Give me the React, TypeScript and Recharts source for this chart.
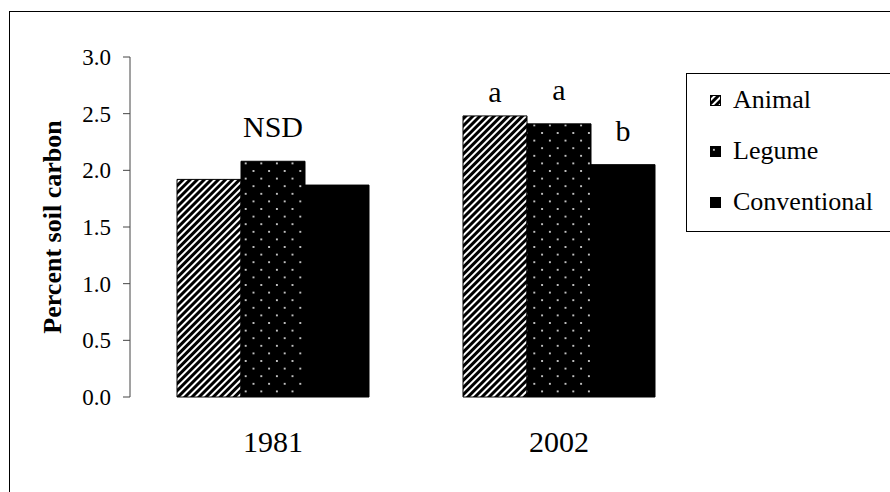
import {
  BarChart,
  Bar,
  XAxis,
  YAxis,
  LabelList,
} from "recharts";

const years = ["1981", "2002"];
const animal = [1.92, 2.48];
const legume = [2.08, 2.41];
const conventional = [1.87, 2.05];
const animalLetters = ["", "a"];
const legumeLetters = ["NSD", "a"];
const conventionalLetters = ["", "b"];
const yTicks = [0, 0.5, 1, 1.5, 2, 2.5, 3];
const seriesNames = ["Animal", "Legume", "Conventional"];

const data = years.map((year, i) => ({
  year,
  animal: animal[i],
  legume: legume[i],
  conventional: conventional[i],
  animalLetter: animalLetters[i],
  legumeLetter: legumeLetters[i],
  conventionalLetter: conventionalLetters[i],
}));

const FONT = '"Liberation Serif", "Times New Roman", serif';

const FILLS = ["url(#stripes)", "url(#dots)", "#000"];

// letters sit a bit above each bar
function letter(offset: number) {
  return (props: any) => {
    const { x, y, width, value } = props;
    if (!value) return null;
    return (
      <text
        x={x + width / 2}
        y={y - offset}
        textAnchor="middle"
        fontFamily={FONT}
        fontSize={30}
        fill="#000">
        {value}
      </text>
    );
  };
}

function Swatch({ fill }: { fill: string }) {
  return (
    <svg width={11} height={11} style={{ marginRight: 12, flexShrink: 0 }}>
      <rect x={0.5} y={0.5} width={10} height={10} fill={fill} stroke="#000" />
    </svg>
  );
}

export default function App() {
  return (
    <div
      style={{
        position: "absolute",
        left: 0,
        top: 0,
        width: 890,
        height: 492,
        overflow: "hidden",
        background: "#fff",
      }}>
      {/* outer frame, runs off the right and bottom edge */}
      <div
        style={{
          position: "absolute",
          left: 9,
          top: 11,
          width: 1000,
          height: 600,
          borderLeft: "1.5px solid #000",
          borderTop: "1.5px solid #000",
        }}
      />
      <div style={{ position: "absolute", left: 0, top: 0 }}>
        <BarChart
          width={890}
          height={492}
          data={data}
          margin={{ top: 57, right: 188, bottom: 35, left: 0 }}
          barCategoryGap={47}
          barGap={0}>
          <defs>
            <pattern
              id="stripes"
              width={5}
              height={5}
              patternUnits="userSpaceOnUse"
              patternTransform="rotate(45)">
              <rect width={5} height={5} fill="#fff" />
              <rect width={3} height={5} fill="#000" />
            </pattern>
            <pattern
              id="dots"
              width={15.6}
              height={15.2}
              patternUnits="userSpaceOnUse">
              <rect width={15.6} height={15.2} fill="#000" />
              <circle cx={3.9} cy={3.8} r={1} fill="#fff" />
              <circle cx={11.7} cy={11.4} r={1} fill="#fff" />
            </pattern>
          </defs>
          <XAxis
            xAxisId="edges"
            type="number"
            domain={[0, 2]}
            ticks={[0, 1, 2]}
            tick={false}
            tickSize={10}
            height={0}
            stroke="#444"
            allowDataOverflow
          />
          <XAxis
            dataKey="year"
            axisLine={false}
            tickLine={false}
            tickSize={0}
            tickMargin={34}
            height={60}
            tick={{ fontFamily: FONT, fontSize: 30, fill: "#000" }}
          />
          <YAxis
            domain={[0, 3]}
            ticks={yTicks}
            width={130}
            tickSize={7}
            tickMargin={12}
            stroke="#444"
            tickFormatter={(v: number) => v.toFixed(1)}
            tick={{ fontFamily: FONT, fontSize: 23, fill: "#000" }}
            label={{
              value: "Percent soil carbon",
              angle: -90,
              position: "center",
              dx: -13,
              style: {
                fontFamily: FONT,
                fontSize: 26,
                fontWeight: "bold",
                fill: "#000",
                textAnchor: "middle",
              },
            }}
          />
          <Bar dataKey="animal" fill={FILLS[0]} stroke="#000" isAnimationActive={false}>
            <LabelList dataKey="animalLetter" content={letter(14)} />
          </Bar>
          <Bar dataKey="legume" fill={FILLS[1]} stroke="#000" isAnimationActive={false}>
            <LabelList dataKey="legumeLetter" content={letter(24)} />
          </Bar>
          <Bar dataKey="conventional" fill={FILLS[2]} stroke="#000" isAnimationActive={false}>
            <LabelList dataKey="conventionalLetter" content={letter(24)} />
          </Bar>
        </BarChart>
      </div>
      {/* legend box */}
      <div
        style={{
          position: "absolute",
          left: 686,
          top: 73,
          width: 300,
          height: 157,
          borderLeft: "1.5px solid #000",
          borderTop: "1.5px solid #000",
          borderBottom: "1.5px solid #000",
          background: "#fff",
          fontFamily: FONT,
          fontSize: 26,
          color: "#000",
        }}>
        {seriesNames.map((name, i) => (
          <div
            key={name}
            style={{
              position: "absolute",
              left: 23,
              top: 10 + i * 51,
              display: "flex",
              alignItems: "center",
              height: 32,
            }}>
            <Swatch fill={FILLS[i]} />
            <span>{name}</span>
          </div>
        ))}
      </div>
    </div>
  );
}
